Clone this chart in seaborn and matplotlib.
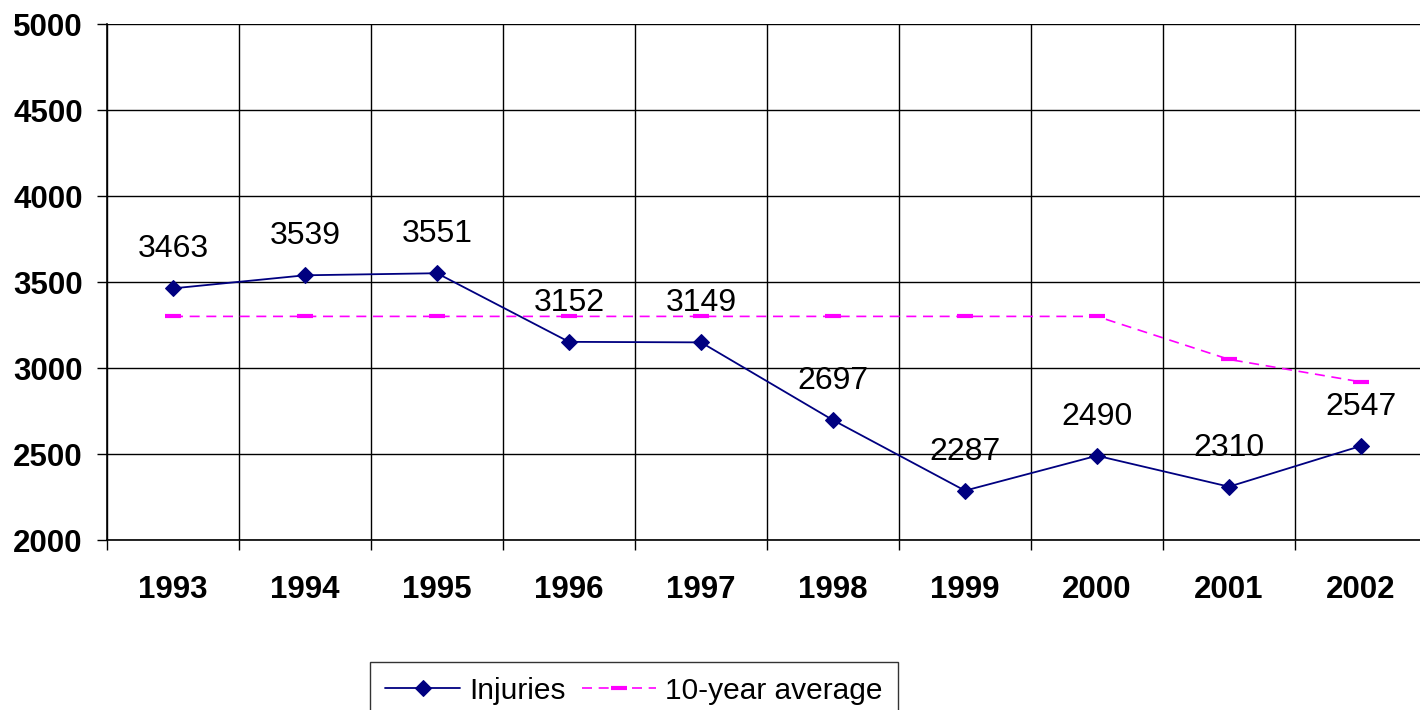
import pandas as pd
import numpy as np
import matplotlib
matplotlib.use("Agg")
import matplotlib.pyplot as plt
import seaborn as sns

years = ["1993", "1994", "1995", "1996", "1997", "1998", "1999", "2000", "2001", "2002"]
injuries = [3463, 3539, 3551, 3152, 3149, 2697, 2287, 2490, 2310, 2547]
ten_year_avg = [3300, 3300, 3300, 3300, 3300, 3300, 3300, 3300, 3050, 2919]
y_ticks = [2000, 2500, 3000, 3500, 4000, 4500, 5000]

sns.set_theme(style="white")
plt.rcParams["font.family"] = ["Liberation Sans", "DejaVu Sans"]

df = pd.DataFrame({"year": years, "Injuries": injuries, "avg": ten_year_avg})

fig = plt.figure(figsize=(14.2, 7.1), dpi=100)
# plot area: left 107px, top 24px, bottom 540px, right runs just past the edge
ax = fig.add_axes([107 / 1420, 1 - 540 / 710, 1320 / 1420, 516 / 710])

sns.lineplot(data=df, x="year", y="Injuries", ax=ax, color="#000080", linewidth=1.3,
             marker="D", markersize=8, markeredgecolor="#000080", label="Injuries", sort=False)
sns.lineplot(data=df, x="year", y="avg", ax=ax, color="#FF00FF", linewidth=1.2,
             dashes=False, marker="_", markersize=11, markeredgewidth=3,
             markeredgecolor="#FF00FF", label="10-year average", sort=False)
ax.lines[1].set_linestyle((0, (6, 4)))

for i, v in enumerate(injuries):
    ax.annotate(str(v), (i, v), xytext=(0, 28), textcoords="offset points",
                ha="center", va="center", fontsize=23, color="black")

ax.set_xlim(-0.5, 9.5)
ax.set_ylim(2000, 5000)
ax.set_yticks(y_ticks)
ax.set_yticklabels([str(t) for t in y_ticks], fontsize=22.5, fontweight="bold", color="black")
ax.set_xticks(range(len(years)))
ax.set_xticklabels(years, fontsize=22.5, fontweight="bold", color="black")
ax.set_xticks(np.arange(-0.5, 10, 1), minor=True)
ax.tick_params(axis="x", which="major", length=0, pad=25)
ax.tick_params(axis="x", which="minor", length=7.5, width=1, color="black", direction="out", bottom=True)
ax.tick_params(axis="y", which="major", length=7.5, width=1, color="black", pad=10, left=True, direction="out")
ax.set_xlabel("")
ax.set_ylabel("")

ax.grid(True, axis="y", which="major", color="black", linewidth=1)
ax.grid(True, axis="x", which="minor", color="black", linewidth=1)
ax.grid(False, axis="x", which="major")
ax.set_axisbelow(True)

for side in ["left", "bottom"]:
    ax.spines[side].set_color("black")
    ax.spines[side].set_linewidth(1.2)
ax.spines["top"].set_visible(False)
ax.spines["right"].set_visible(False)

ax.legend_.remove()
handles, labels = ax.get_legend_handles_labels()
leg = fig.legend(handles, labels, loc="upper center", bbox_to_anchor=(0.4465, 1 - 662 / 710),
                 borderaxespad=0, ncol=2, fontsize=21.5, frameon=True, fancybox=False,
                 handlelength=2.5, columnspacing=0.55, handletextpad=0.3, borderpad=0.5)
leg.get_frame().set_edgecolor("black")
leg.get_frame().set_linewidth(1)
for t in leg.get_texts():
    t.set_color("black")

fig.savefig("out.png", dpi=100)
